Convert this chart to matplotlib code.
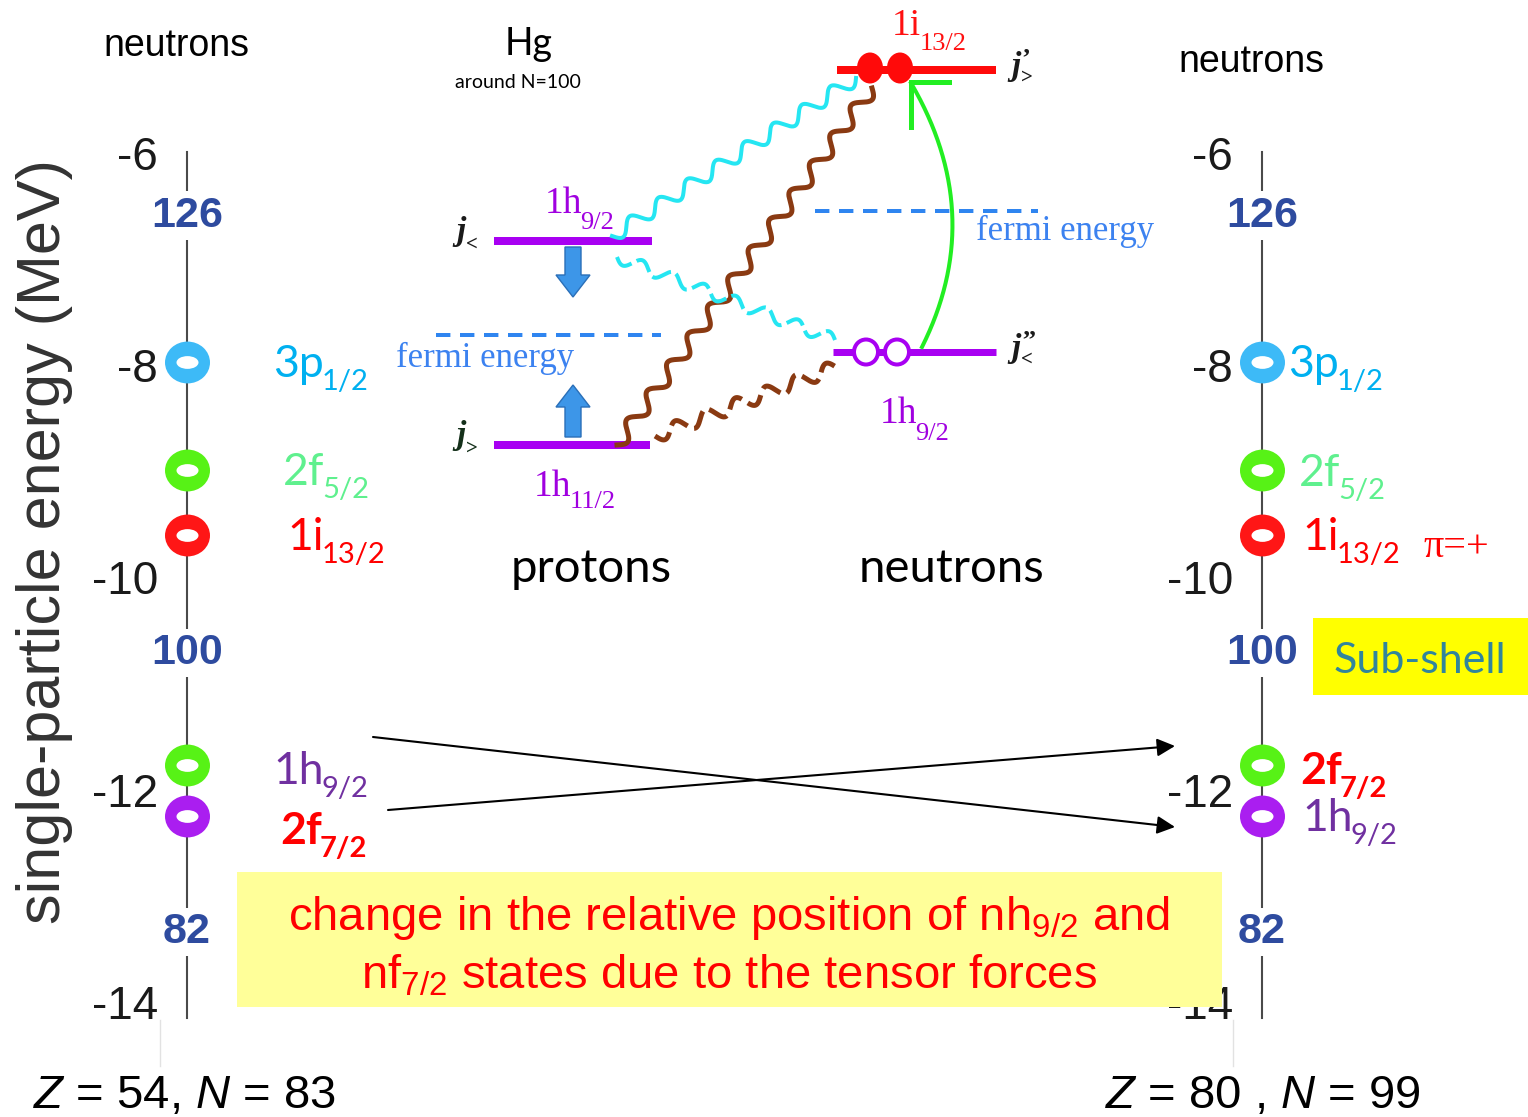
import numpy as np
import matplotlib
matplotlib.use("Agg")
import matplotlib.pyplot as plt
from matplotlib.patches import Rectangle, Ellipse, FancyArrow
from matplotlib.path import Path
from matplotlib.transforms import Affine2D

plt.rcParams["font.family"] = ["Liberation Sans", "DejaVu Sans"]
plt.rcParams["mathtext.fontset"] = "custom"
plt.rcParams["mathtext.rm"] = "Liberation Sans"
plt.rcParams["mathtext.it"] = "Liberation Sans:italic"
plt.rcParams["mathtext.bf"] = "Liberation Sans:bold"

# ---------------- data ----------------
energy_ticks = [-6, -8, -10, -12, -14]
magic_numbers = ["126", "100", "82"]
magic_energies = [-6.59, -10.71, -13.34]

# neutron single-particle levels (MeV), top to bottom, and their ring colours
level_energies = [-7.97, -8.99, -9.60, -11.77, -12.25]
ring_colors = ["#3DBAF7", "#57F216", "#FF1616", "#57F216", "#AA1EF0"]

# orbital names written beside the rings
left_orbitals = [("3p", "1/2"), ("2f", "5/2"), ("1i", "13/2"), ("1h", "9/2"), ("2f", "7/2")]
right_orbitals = [("3p", "1/2"), ("2f", "5/2"), ("1i", "13/2"), ("2f", "7/2"), ("1h", "9/2")]
orbital_colors = {"3p1/2": "#00B0F0", "2f5/2": "#5FF08E", "1i13/2": "#FF0000",
                  "1h9/2": "#7030A0", "2f7/2": "#FF0000"}
bold_orbitals = {"2f7/2"}

left_nucleus = r"$Z$ = 54, $N$ = 83"
right_nucleus = r"$Z$ = 80 , $N$ = 99"

# ---------------- figure ----------------
W, H = 1528, 1117
P = 0.72  # points per pixel at 100 dpi
fig = plt.figure(figsize=(W / 100, H / 100), dpi=100)


def px_rect(x0, y0, x1, y1):
    return [x0 / W, 1 - y1 / H, (x1 - x0) / W, (y1 - y0) / H]


def sub_label(ax, x, y, main, sub, dx=0, dy=0, drop=12, gap=1, size=32, sub_size=21,
              color="k", family="Lato", weight="normal", style="normal", zorder=6):
    t = ax.annotate(main, xy=(x, y), xycoords="data", xytext=(dx * P, dy * P),
                    textcoords="offset points", ha="left", va="baseline",
                    fontsize=size, color=color, family=family, weight=weight,
                    style=style, annotation_clip=False, zorder=zorder)
    s = ax.annotate(sub, xy=(1, y), xycoords=(t, "data"),
                    xytext=(gap * P, (dy - drop) * P), textcoords="offset points",
                    ha="left", va="baseline", fontsize=sub_size, color=color,
                    family=family, weight=weight, annotation_clip=False, zorder=zorder)
    return t, s


def ellipse_marker(ry):
    return Path.unit_circle().transformed(Affine2D().scale(1.0, ry))


ring_outer = ellipse_marker(0.93)
ring_hole = ellipse_marker(0.58)

E_top = -6 + 1 / 106.1
E_bot = -14 - 16 / 106.1


def level_column(x_axis, orbitals, label_dx, label_dy):
    ax = fig.add_axes(px_rect(x_axis, 152, x_axis + 110, 1018))
    ax.set_xlim(0, 1)
    ax.set_ylim(E_bot, E_top)
    ax.patch.set_alpha(0)
    for side in ("top", "right", "bottom"):
        ax.spines[side].set_visible(False)
    ax.spines["left"].set_color("#4A4A4A")
    ax.spines["left"].set_linewidth(1.5)
    ax.set_xticks([])
    ax.set_yticks(energy_ticks)
    ax.set_yticklabels([str(v) for v in energy_ticks])
    ax.tick_params(axis="y", length=0, pad=21, labelsize=33, labelcolor="#1A1A1A")

    for num, e in zip(magic_numbers, magic_energies):
        ax.text(0, e, num, ha="center", va="center", fontsize=31, weight="bold",
                color="#2E4B9F", zorder=4, clip_on=False,
                bbox=dict(fc="white", ec="none", pad=3))

    for e, c in zip(level_energies, ring_colors):
        ax.plot(0, e, marker=ring_outer, ms=45 * P, color=c, mec="none",
                clip_on=False, zorder=5)
        ax.plot(0, e, marker=ring_hole, ms=22 * P, color="white", mec="none",
                clip_on=False, zorder=6)

    for (name, sub), e, dx, dy in zip(orbitals, level_energies, label_dx, label_dy):
        key = name + sub
        sub_label(ax, 0, e, name, sub, dx=dx, dy=-dy, drop=13, gap=-2,
                  size=32, sub_size=21, color=orbital_colors[key],
                  family="Lato", weight="bold" if key in bold_orbitals else "normal")
    return ax


ax_l = level_column(187, left_orbitals, [86, 96, 100, 86, 93], [15, 15, 15, 19, 28])
ax_r = level_column(1262, right_orbitals, [26, 37, 40, 38, 40], [15, 16, 15, 19, 15])

# ---------------- overlay in pixel coordinates ----------------
ax = fig.add_axes([0, 0, 1, 1], zorder=10)
ax.set_xlim(0, W)
ax.set_ylim(H, 0)
ax.axis("off")

ax.text(45, 542, "single-particle energy (MeV)", rotation=90, ha="center",
        va="center", fontsize=44, color="#333333")
ax.text(176, 56, "neutrons", ha="center", va="baseline", fontsize=27)
ax.text(1251, 72, "neutrons", ha="center", va="baseline", fontsize=27)

# faint leftovers of the original frame under the axes
for xv in (160, 1233):
    ax.plot([xv, xv], [1020, 1066], color="#E2E2E2", lw=1)

# Sub-shell tag
ax.add_patch(Rectangle((1313, 618), 215, 77, fc="#FFFF00", ec="none"))
ax.text(1420, 673, "Sub-shell", ha="center", va="baseline", fontsize=31,
        family="Lato", color="#31859C")
ax.text(1423, 557, "\u03c0=+", ha="left", va="baseline", fontsize=29,
        family="Liberation Serif", color="#FF0000")

# crossing arrows
ax.annotate("", xy=(1175, 827), xytext=(373, 737),
            arrowprops=dict(arrowstyle="-|>", lw=1.5, color="black",
                            mutation_scale=27, shrinkA=0, shrinkB=0))
ax.annotate("", xy=(1175, 746), xytext=(388, 810),
            arrowprops=dict(arrowstyle="-|>", lw=1.5, color="black",
                            mutation_scale=27, shrinkA=0, shrinkB=0))

# explanation box
ax.add_patch(Rectangle((237, 872), 985, 135, fc="#FFFF99", ec="none", zorder=3))
ax.text(729, 930, r"change in the relative position of nh$_{9/2}$ and", ha="center",
        va="baseline", fontsize=34, color="#FF0000", zorder=4)
ax.text(729, 988, r"nf$_{7/2}$ states due to the tensor forces", ha="center",
        va="baseline", fontsize=34, color="#FF0000", zorder=4)

ax.text(33, 1108, left_nucleus, ha="left", va="baseline", fontsize=34)
ax.text(1105, 1108, right_nucleus, ha="left", va="baseline", fontsize=34)

# ---------------- tensor-force schematic ----------------
purple = "#A800F2"
lab_purple = "#A000E0"
ax.text(529, 55, "Hg", ha="center", va="baseline", fontsize=27, family="Lato")
ax.text(518, 88, "around N=100", ha="center", va="baseline", fontsize=14, family="Lato")

# proton levels
ax.plot([494, 652], [241, 241], color=purple, lw=8 * P, solid_capstyle="butt")
ax.plot([494, 650], [445, 445], color=purple, lw=8 * P, solid_capstyle="butt")
sub_label(ax, 545, 213, "1h", "9/2", drop=16, gap=-2, size=27, sub_size=19,
          color=lab_purple, family="Liberation Serif")
sub_label(ax, 534, 496, "1h", "11/2", drop=12, gap=-2, size=27, sub_size=19,
          color=lab_purple, family="Liberation Serif")
sub_label(ax, 456, 240, "j", "<", drop=10, gap=1, size=24, sub_size=15,
          color="#1A1A1A", family="Liberation Serif", weight="bold", style="italic")
sub_label(ax, 456, 444, "j", ">", drop=10, gap=1, size=24, sub_size=15,
          color="#14301A", family="Liberation Serif", weight="bold", style="italic")

# neutron levels
ax.plot([837, 996], [70, 70], color="#FF0A0A", lw=8 * P, solid_capstyle="butt")
for xc in (870, 900):
    ax.add_patch(Ellipse((xc, 68), 26, 31, fc="#FF0A0A", ec="none", zorder=4))
ax.plot([833, 996], [352, 352], color=purple, lw=7 * P, solid_capstyle="butt")
for xc in (866, 897):
    ax.add_patch(Ellipse((xc, 352), 24, 25, fc="white", ec=purple, lw=4 * P, zorder=4))
sub_label(ax, 892, 35, "1i", "13/2", drop=15, gap=-1, size=27, sub_size=19,
          color="#FF1010", family="Liberation Serif")
sub_label(ax, 880, 423, "1h", "9/2", drop=17, gap=-2, size=27, sub_size=19,
          color=lab_purple, family="Liberation Serif")
for yb, prime, sub in ((75, "\u2019", ">"), (357, "\u2019\u2019", "<")):
    t, s = sub_label(ax, 1011, yb, "j", sub, drop=8, gap=1, size=24, sub_size=15,
                     color="#1A1A1A", family="Liberation Serif", weight="bold",
                     style="italic")
    ax.annotate(prime, xy=(1, yb), xycoords=(t, "data"), xytext=(1, 10 * P),
                textcoords="offset points", ha="left", va="baseline", fontsize=19,
                family="Liberation Serif", weight="bold", color="#1A1A1A")

# Fermi energies
fermi_blue = "#2F85F0"
ax.plot([436, 661], [335, 335], color=fermi_blue, lw=4 * P, dashes=(3.6, 2.4))
ax.plot([815, 1038], [211, 211], color=fermi_blue, lw=4 * P, dashes=(3.6, 2.4))
ax.text(396, 367, "fermi energy", ha="left", va="baseline", fontsize=25,
        family="Liberation Serif", color="#3C82F0")
ax.text(976, 240, "fermi energy", ha="left", va="baseline", fontsize=25,
        family="Liberation Serif", color="#3C82F0")

# level shifts
for y0, dy in ((247, 50), (437, -52)):
    ax.add_patch(FancyArrow(573, y0, 0, dy, width=16, head_width=34, head_length=22,
                            length_includes_head=True, fc="#3D96E8", ec="#2A6FB8",
                            lw=1, zorder=4))


def wavy(p0, p1, periods, amp, n=700):
    p0 = np.asarray(p0, float)
    p1 = np.asarray(p1, float)
    t = np.linspace(0, 1, n)
    d = p1 - p0
    nrm = np.array([-d[1], d[0]]) / np.hypot(*d)
    off = amp * np.sin(2 * np.pi * periods * t)
    pts = p0 + t[:, None] * d + off[:, None] * nrm
    return pts[:, 0], pts[:, 1]


cyan = "#25E6F2"
brown = "#8A3A12"
ax.plot(*wavy((612, 236), (856, 78), 8.5, 7), color=cyan, lw=4 * P)
ax.plot(*wavy((617, 445), (872, 88), 12.5, 7), color=brown, lw=5 * P)
ax.plot(*wavy((617, 257), (835, 340), 7, 6), color=cyan, lw=4 * P, dashes=(5, 1.4))
ax.plot(*wavy((655, 436), (836, 367), 6, 7), color=brown, lw=5 * P, dashes=(4, 1.4))

# green arc with its corner-shaped head
tb = np.linspace(0, 1, 200)[:, None]
b0, b1, b2 = np.array([922, 347]), np.array([988, 215]), np.array([911, 83])
arc = (1 - tb) ** 2 * b0 + 2 * (1 - tb) * tb * b1 + tb ** 2 * b2
ax.plot(arc[:, 0], arc[:, 1], color="#22EE22", lw=4 * P)
ax.plot([911, 911, 949], [127, 82, 82], color="#22EE22", lw=5 * P,
        solid_joinstyle="miter")

ax.text(591, 582, "protons", ha="center", va="baseline", fontsize=34, family="Lato")
ax.text(952, 582, "neutrons", ha="center", va="baseline", fontsize=34, family="Lato")

fig.savefig("out.png", dpi=100)
